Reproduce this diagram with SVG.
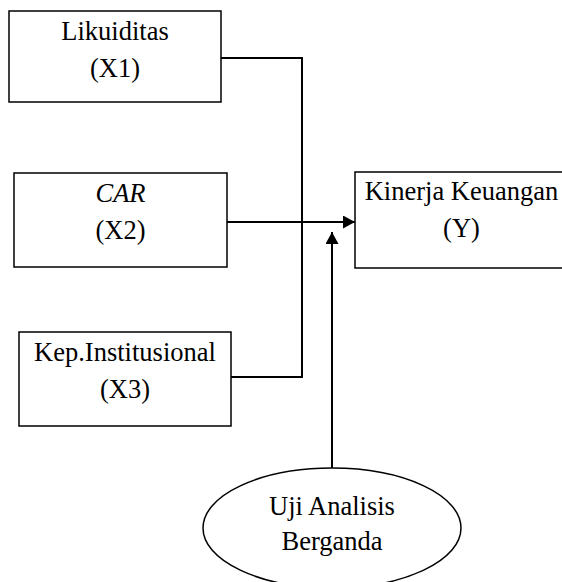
<svg xmlns="http://www.w3.org/2000/svg" width="562" height="582" viewBox="0 0 562 582">
<style>
.box{fill:#fff;stroke:#000;stroke-width:1.5}
.t{font-family:"Liberation Serif","Times New Roman",serif;font-size:26.5px;fill:#000;text-anchor:middle}
.c{fill:none;stroke:#000;stroke-width:2}
</style>
<defs>
<marker id="ah" viewBox="0 0 12 13" refX="12" refY="6.5" markerWidth="12" markerHeight="13" markerUnits="userSpaceOnUse" orient="auto">
<path d="M0,0 L12,6.5 L0,13 Z" fill="#000"/>
</marker>
</defs>
<rect width="562" height="582" fill="#fff"/>
<g id="connectors">
<polyline class="c" points="221,58 302,58 302,377 231,377"/>
<line class="c" x1="227" y1="222" x2="355" y2="222" marker-end="url(#ah)"/>
<line class="c" x1="332" y1="468" x2="332" y2="232" marker-end="url(#ah)"/>
</g>
<g id="x1">
<rect class="box" x="9" y="11" width="212" height="91"/>
<text class="t" x="115" y="40">Likuiditas</text>
<text class="t" x="115" y="77">(X1)</text>
</g>
<g id="x2">
<rect class="box" x="14" y="173" width="213" height="94"/>
<text class="t" x="120.5" y="202" font-style="italic">CAR</text>
<text class="t" x="120.5" y="239">(X2)</text>
</g>
<g id="x3">
<rect class="box" x="19" y="332" width="212" height="94"/>
<text class="t" x="125" y="361">Kep.Institusional</text>
<text class="t" x="125" y="398">(X3)</text>
</g>
<g id="y">
<rect class="box" x="355" y="172" width="213" height="96"/>
<text class="t" x="461.5" y="200">Kinerja Keuangan</text>
<text class="t" x="461.5" y="237">(Y)</text>
</g>
<g id="uji">
<ellipse class="box" cx="332" cy="528" rx="129" ry="60"/>
<text class="t" x="332" y="515">Uji Analisis</text>
<text class="t" x="332" y="550">Berganda</text>
</g>
</svg>
